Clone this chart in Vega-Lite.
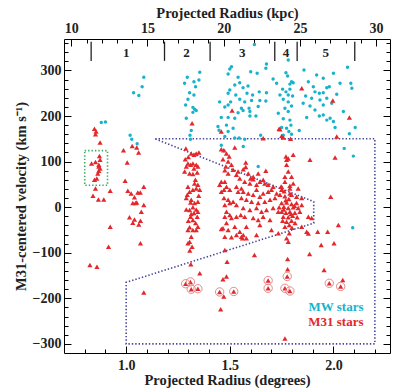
{
"$schema": "https://vega.github.io/schema/vega-lite/v6.json",
"width": 326, "height": 314,
"autosize": "none",
"padding": {"left": 64, "top": 39, "right": 5, "bottom": 38},
"background": "white",
"config": {
 "view": {"stroke": "#000", "strokeWidth": 1},
 "axis": {"grid": false, "domain": false, "labelFont": "Liberation Serif", "labelFontWeight": "bold", "labelFontSize": 14, "labelColor": "#222", "titleFont": "Liberation Serif", "titleFontWeight": "bold", "titleFontSize": 14.5, "titleColor": "#222", "tickColor": "#000", "tickWidth": 1},
 "text": {"font": "Liberation Serif", "fontWeight": "bold"}
},
"datasets": {
 "poly": [{"i":0,"r":1.14,"v":150},{"i":1,"r":2.2,"v":150},{"i":2,"r":2.2,"v":-300},{"i":3,"r":1.0,"v":-300},{"i":4,"r":1.0,"v":-165},{"i":5,"r":1.905,"v":-35},{"i":6,"r":1.905,"v":12},{"i":7,"r":1.14,"v":150}],
 "box": [{"r1":0.80,"r2":0.91,"v1":48,"v2":124}],
 "fields": [{"r":0.831,"v1":321,"v2":363},{"r":1.185,"v1":321,"v2":363},{"r":1.405,"v1":321,"v2":363},{"r":1.717,"v1":321,"v2":363},{"r":1.825,"v1":321,"v2":363},{"r":2.103,"v1":321,"v2":363}],
 "fieldlab": [{"r":1.0,"v":338,"t":"1"},{"r":1.291,"v":338,"t":"2"},{"r":1.56,"v":338,"t":"3"},{"r":1.771,"v":338,"t":"4"},{"r":1.963,"v":338,"t":"5"}],
 "legend": [{"r":2.145,"v":-220,"t":"MW stars","c":"MW"},{"r":2.145,"v":-252,"t":"M31 stars","c":"M31"}],
 "circ": [{"r":1.287,"v":-168},{"r":1.310,"v":-164},{"r":1.314,"v":-180},{"r":1.346,"v":-179},{"r":1.451,"v":-186},{"r":1.519,"v":-185},{"r":1.685,"v":-161},{"r":1.685,"v":-178},{"r":1.766,"v":-178},{"r":1.790,"v":-184},{"r":1.777,"v":-152},{"r":1.980,"v":-167},{"r":2.035,"v":-174}],
 "mw": [{"r":0.88,"v":186},{"r":0.90,"v":187},{"r":1.036,"v":251},{"r":1.077,"v":264},{"r":1.085,"v":285},{"r":1.061,"v":245},{"r":1.019,"v":158},{"r":1.027,"v":149},{"r":1.053,"v":139},
 {"r":1.355,"v":296},{"r":1.295,"v":285},{"r":1.282,"v":272},{"r":1.327,"v":275},{"r":1.351,"v":279},{"r":1.335,"v":264},{"r":1.306,"v":251},{"r":1.327,"v":246},{"r":1.298,"v":237},{"r":1.287,"v":224},{"r":1.322,"v":219},{"r":1.330,"v":215},{"r":1.338,"v":212},{"r":1.322,"v":208},{"r":1.290,"v":195},{"r":1.314,"v":168},{"r":1.308,"v":158},{"r":1.310,"v":149},
 {"r":1.508,"v":308},{"r":1.500,"v":303},{"r":1.492,"v":292},{"r":1.601,"v":297},{"r":1.632,"v":294},{"r":1.677,"v":314},{"r":1.674,"v":305},{"r":1.540,"v":285},{"r":1.548,"v":273},{"r":1.524,"v":268},{"r":1.588,"v":266},{"r":1.564,"v":262},{"r":1.500,"v":257},{"r":1.492,"v":250},{"r":1.529,"v":246},{"r":1.583,"v":250},{"r":1.610,"v":246},{"r":1.642,"v":253},{"r":1.677,"v":251},{"r":1.451,"v":231},{"r":1.504,"v":231},{"r":1.548,"v":237},{"r":1.572,"v":231},{"r":1.605,"v":234},{"r":1.645,"v":234},{"r":1.674,"v":233},{"r":1.492,"v":224},{"r":1.556,"v":217},{"r":1.564,"v":212},{"r":1.593,"v":217},{"r":1.637,"v":221},{"r":1.597,"v":210},{"r":1.540,"v":207},{"r":1.524,"v":195},{"r":1.492,"v":197},{"r":1.597,"v":200},{"r":1.626,"v":200},{"r":1.484,"v":180},{"r":1.516,"v":173},{"r":1.492,"v":166},{"r":1.476,"v":155},{"r":1.524,"v":152},{"r":1.545,"v":152},{"r":1.619,"v":357},{"r":1.459,"v":197},{"r":1.448,"v":169},{"r":1.476,"v":220},{"r":1.443,"v":177},{"r":1.459,"v":136},{"r":1.472,"v":124},{"r":1.572,"v":149},{"r":1.565,"v":133},{"r":1.649,"v":158},{"r":1.637,"v":89},
 {"r":1.782,"v":323},{"r":1.771,"v":295},{"r":1.779,"v":288},{"r":1.798,"v":275},{"r":1.790,"v":270},{"r":1.806,"v":273},{"r":1.709,"v":281},{"r":1.726,"v":272},{"r":1.755,"v":259},{"r":1.771,"v":253},{"r":1.790,"v":259},{"r":1.742,"v":246},{"r":1.782,"v":246},{"r":1.803,"v":244},{"r":1.758,"v":237},{"r":1.782,"v":231},{"r":1.798,"v":222},{"r":1.766,"v":217},{"r":1.734,"v":206},{"r":1.782,"v":210},{"r":1.758,"v":194},{"r":1.790,"v":191},{"r":1.795,"v":180},{"r":1.750,"v":175},{"r":1.774,"v":173},{"r":1.785,"v":166},{"r":1.798,"v":160},{"r":1.835,"v":168},{"r":1.758,"v":158},
 {"r":1.858,"v":301},{"r":1.919,"v":290},{"r":1.951,"v":283},{"r":2.000,"v":294},{"r":2.068,"v":307},{"r":2.084,"v":272},{"r":2.089,"v":261},{"r":2.032,"v":272},{"r":1.879,"v":275},{"r":1.903,"v":264},{"r":1.968,"v":262},{"r":1.980,"v":264},{"r":1.911,"v":253},{"r":1.932,"v":250},{"r":1.951,"v":251},{"r":2.016,"v":248},{"r":1.866,"v":244},{"r":1.895,"v":239},{"r":1.935,"v":235},{"r":1.968,"v":239},{"r":1.854,"v":228},{"r":1.887,"v":222},{"r":1.951,"v":224},{"r":1.992,"v":228},{"r":1.911,"v":213},{"r":1.871,"v":197},{"r":1.932,"v":200},{"r":1.951,"v":202},{"r":1.984,"v":195},{"r":2.048,"v":210},{"r":1.968,"v":191},{"r":2.000,"v":188},{"r":2.008,"v":175},{"r":2.105,"v":175},{"r":2.077,"v":161},{"r":2.052,"v":129},{"r":2.096,"v":112},{"r":2.093,"v":-45}],
 "m31": [{"r":0.855,"v":166},{"r":0.852,"v":160},{"r":0.847,"v":172},{"r":0.874,"v":142},{"r":0.987,"v":125},{"r":1.029,"v":134},{"r":1.051,"v":131},{"r":1.060,"v":120},{"r":1.005,"v":98},{"r":0.874,"v":104},{"r":0.871,"v":112},{"r":0.833,"v":96},{"r":0.852,"v":99},{"r":0.868,"v":93},{"r":0.868,"v":89},{"r":0.874,"v":85},{"r":0.868,"v":80},{"r":0.863,"v":74},{"r":0.847,"v":60},{"r":0.858,"v":63},{"r":0.852,"v":41},{"r":0.995,"v":58},{"r":0.923,"v":36},{"r":1.085,"v":45},{"r":0.840,"v":25},{"r":0.866,"v":17},{"r":0.892,"v":17},{"r":1.008,"v":36},{"r":1.024,"v":30},{"r":1.056,"v":32},{"r":1.068,"v":32},{"r":1.040,"v":22},{"r":1.032,"v":9},{"r":1.045,"v":9},{"r":1.051,"v":10},{"r":1.085,"v":5},{"r":1.073,"v":-10},{"r":1.016,"v":-22},{"r":1.040,"v":-27},{"r":1.032,"v":-34},{"r":1.069,"v":-30},{"r":1.061,"v":-38},{"r":0.923,"v":-43},{"r":0.915,"v":-87},{"r":1.069,"v":-79},{"r":0.825,"v":-127},{"r":0.859,"v":-131},{"r":1.085,"v":-187},
 {"r":1.318,"v":184},{"r":1.288,"v":129},{"r":1.300,"v":110},{"r":1.285,"v":105},{"r":1.314,"v":118},{"r":1.327,"v":115},{"r":1.338,"v":118},{"r":1.351,"v":120},{"r":1.298,"v":96},{"r":1.311,"v":93},{"r":1.322,"v":96},{"r":1.338,"v":93},{"r":1.346,"v":89},{"r":1.290,"v":89},{"r":1.327,"v":85},{"r":1.282,"v":78},{"r":1.306,"v":74},{"r":1.322,"v":73},{"r":1.343,"v":76},{"r":1.334,"v":60},{"r":1.330,"v":52},{"r":1.346,"v":49},{"r":1.338,"v":41},{"r":1.355,"v":38},{"r":1.322,"v":38},{"r":1.298,"v":45},{"r":1.306,"v":34},{"r":1.295,"v":27},{"r":1.290,"v":20},{"r":1.350,"v":25},{"r":1.314,"v":16},{"r":1.311,"v":10},{"r":1.330,"v":9},{"r":1.346,"v":12},{"r":1.322,"v":0},{"r":1.290,"v":-5},{"r":1.306,"v":-6},{"r":1.338,"v":-5},{"r":1.346,"v":-10},{"r":1.327,"v":-13},{"r":1.314,"v":-15},{"r":1.311,"v":-21},{"r":1.343,"v":-21},{"r":1.322,"v":-28},{"r":1.300,"v":-30},{"r":1.335,"v":-35},{"r":1.306,"v":-44},{"r":1.298,"v":-50},{"r":1.322,"v":-50},{"r":1.346,"v":-43},{"r":1.338,"v":-50},{"r":1.314,"v":-65},{"r":1.306,"v":-76},{"r":1.318,"v":-87},{"r":1.298,"v":-79},{"r":1.307,"v":-95},{"r":1.312,"v":-125},{"r":1.355,"v":-145},{"r":1.287,"v":-168},{"r":1.310,"v":-164},{"r":1.314,"v":-180},{"r":1.346,"v":-179},
 {"r":1.511,"v":212},{"r":1.459,"v":166},{"r":1.459,"v":127},{"r":1.524,"v":131},{"r":1.471,"v":125},{"r":1.484,"v":118},{"r":1.467,"v":105},{"r":1.492,"v":100},{"r":1.481,"v":89},{"r":1.497,"v":111},{"r":1.508,"v":93},{"r":1.577,"v":98},{"r":1.577,"v":88},{"r":1.674,"v":80},{"r":1.661,"v":151},{"r":1.738,"v":172},
 {"r":1.476,"v":81},{"r":1.492,"v":74},{"r":1.516,"v":82},{"r":1.540,"v":78},{"r":1.565,"v":83},{"r":1.589,"v":74},{"r":1.613,"v":67},{"r":1.637,"v":74},{"r":1.548,"v":63},{"r":1.572,"v":56},{"r":1.597,"v":52},{"r":1.629,"v":49},{"r":1.661,"v":60},{"r":1.685,"v":49},{"r":1.709,"v":45},{"r":1.726,"v":30},{"r":1.750,"v":38},{"r":1.532,"v":71},{"r":1.459,"v":56},{"r":1.476,"v":56},{"r":1.451,"v":49},{"r":1.484,"v":45},{"r":1.472,"v":38},{"r":1.500,"v":38},{"r":1.459,"v":34},{"r":1.532,"v":45},{"r":1.540,"v":34},{"r":1.556,"v":41},{"r":1.565,"v":34},{"r":1.472,"v":20},{"r":1.492,"v":16},{"r":1.500,"v":9},{"r":1.476,"v":5},{"r":1.516,"v":12},{"r":1.532,"v":5},{"r":1.484,"v":-10},{"r":1.500,"v":-17},{"r":1.476,"v":-21},{"r":1.508,"v":-24},{"r":1.532,"v":-21},{"r":1.553,"v":-17},{"r":1.467,"v":-46},{"r":1.492,"v":-50},{"r":1.524,"v":-43},{"r":1.548,"v":-54},{"r":1.476,"v":-65},{"r":1.508,"v":-66},{"r":1.532,"v":-61},{"r":1.561,"v":-68},{"r":1.476,"v":-94},{"r":1.600,"v":63},{"r":1.613,"v":61},{"r":1.645,"v":56},{"r":1.669,"v":52},{"r":1.701,"v":38},{"r":1.685,"v":34},{"r":1.589,"v":30},{"r":1.629,"v":38},{"r":1.613,"v":27},{"r":1.645,"v":23},{"r":1.661,"v":30},{"r":1.556,"v":20},{"r":1.580,"v":16},{"r":1.605,"v":12},{"r":1.637,"v":9},{"r":1.669,"v":12},{"r":1.694,"v":16},{"r":1.718,"v":20},{"r":1.565,"v":-2},{"r":1.597,"v":-6},{"r":1.629,"v":-2},{"r":1.653,"v":-10},{"r":1.677,"v":-6},{"r":1.709,"v":-2},{"r":1.734,"v":-10},{"r":1.572,"v":-21},{"r":1.613,"v":-24},{"r":1.637,"v":-28},{"r":1.661,"v":-21},{"r":1.694,"v":-28},{"r":1.580,"v":-43},{"r":1.645,"v":-39},{"r":1.701,"v":-50},{"r":1.556,"v":-65},{"r":1.580,"v":-68},{"r":1.629,"v":-61},{"r":1.734,"v":-57},{"r":1.484,"v":-35},{"r":1.565,"v":-61},{"r":1.459,"v":-48},{"r":1.487,"v":-120},{"r":1.467,"v":-158},{"r":1.484,"v":-152},{"r":1.471,"v":-196},{"r":1.456,"v":-224},{"r":1.619,"v":-105},{"r":1.451,"v":-186},{"r":1.519,"v":-185},
 {"r":1.742,"v":171},{"r":1.750,"v":156},{"r":1.758,"v":153},{"r":1.793,"v":150},{"r":1.806,"v":115},{"r":1.771,"v":111},{"r":1.782,"v":107},{"r":1.774,"v":104},{"r":1.774,"v":93},{"r":1.782,"v":78},{"r":1.798,"v":67},{"r":1.766,"v":67},{"r":1.766,"v":56},{"r":1.806,"v":52},{"r":1.750,"v":45},{"r":1.790,"v":41},{"r":1.830,"v":41},{"r":1.847,"v":20},{"r":1.742,"v":27},{"r":1.766,"v":24},{"r":1.798,"v":27},{"r":1.822,"v":23},{"r":1.750,"v":9},{"r":1.774,"v":10},{"r":1.798,"v":7},{"r":1.822,"v":9},{"r":1.738,"v":0},{"r":1.761,"v":1},{"r":1.782,"v":-2},{"r":1.806,"v":0},{"r":1.830,"v":-2},{"r":1.750,"v":-10},{"r":1.771,"v":-12},{"r":1.790,"v":-10},{"r":1.814,"v":-12},{"r":1.838,"v":-10},{"r":1.758,"v":-21},{"r":1.782,"v":-22},{"r":1.803,"v":-19},{"r":1.825,"v":-22},{"r":1.774,"v":-32},{"r":1.798,"v":-30},{"r":1.787,"v":-39},{"r":1.766,"v":-43},{"r":1.879,"v":-21},{"r":1.895,"v":-24},{"r":1.847,"v":5},{"r":1.774,"v":-68},{"r":1.782,"v":-76},{"r":1.787,"v":-57},{"r":1.847,"v":-43},{"r":1.790,"v":47},{"r":1.747,"v":45},{"r":1.760,"v":-5},{"r":1.795,"v":-15},{"r":1.812,"v":3},{"r":1.770,"v":15},{"r":1.755,"v":-30},{"r":1.815,"v":-35},{"r":1.785,"v":18},{"r":1.800,"v":-45},{"r":1.762,"v":35},{"r":1.790,"v":30},{"r":1.779,"v":-114},{"r":1.779,"v":-136},{"r":1.766,"v":-288},{"r":1.685,"v":-161},{"r":1.685,"v":-178},{"r":1.766,"v":-178},{"r":1.790,"v":-184},{"r":1.777,"v":-152},
 {"r":1.847,"v":261},{"r":1.997,"v":234},{"r":2.077,"v":197},{"r":2.016,"v":155},{"r":1.887,"v":104},{"r":2.008,"v":109},{"r":1.987,"v":23},{"r":2.024,"v":-39},{"r":1.972,"v":-54},{"r":1.924,"v":-54},{"r":1.871,"v":-54},{"r":1.879,"v":-58},{"r":1.941,"v":-83},{"r":2.003,"v":-79},{"r":1.885,"v":-103},{"r":1.955,"v":-138},{"r":2.045,"v":-160},{"r":1.980,"v":-167},{"r":2.035,"v":-174}]
},
"resolve": {"axis": {"x": "independent", "y": "independent"}},
"layer": [
 {"data": {"name": "poly"},
  "mark": {"type": "line", "color": "#45459c", "strokeWidth": 1.6, "strokeDash": [1.4, 2]},
  "encoding": {
   "x": {"field": "r", "type": "quantitative", "scale": {"domain": [0.7, 2.273], "nice": false, "zero": false},
         "axis": {"orient": "bottom", "values": [1, 1.5, 2], "format": ".1f", "ticks": false, "labelPadding": 5, "title": "Projected Radius (degrees)", "titlePadding": 1}},
   "y": {"field": "v", "type": "quantitative", "scale": {"domain": [-320, 369], "nice": false, "zero": false},
         "axis": {"orient": "left", "values": [-300, -200, -100, 0, 100, 200, 300], "ticks": false, "labelPadding": 3, "title": "M31-centered velocity (km s⁻¹)", "titlePadding": 4}},
   "order": {"field": "i", "type": "quantitative"}
  }},
 {"data": {"name": "box"},
  "mark": {"type": "rect", "fill": "transparent", "stroke": "#3aae62", "strokeWidth": 1.6, "strokeDash": [1.4, 2]},
  "encoding": {
   "x": {"field": "r1", "type": "quantitative", "scale": {"domain": [0.7, 2.273], "nice": false, "zero": false},
         "axis": {"orient": "bottom", "values": [1, 1.5, 2], "labels": false, "tickSize": -7, "title": null}},
   "x2": {"field": "r2"},
   "y": {"field": "v1", "type": "quantitative", "scale": {"domain": [-320, 369], "nice": false, "zero": false},
         "axis": {"orient": "left", "values": [-300, -200, -100, 0, 100, 200, 300], "labels": false, "tickSize": -7, "title": null}},
   "y2": {"field": "v2"}
  }},
 {"data": {"name": "fields"},
  "mark": {"type": "rule", "color": "#222", "strokeWidth": 1.3},
  "encoding": {
   "x": {"field": "r", "type": "quantitative", "scale": {"domain": [0.7, 2.273], "nice": false, "zero": false},
         "axis": {"orient": "bottom", "values": [0.8, 0.9, 1.0, 1.1, 1.2, 1.3, 1.4, 1.5, 1.6, 1.7, 1.8, 1.9, 2.0, 2.1, 2.2], "labels": false, "tickSize": -4, "title": null}},
   "y": {"field": "v1", "type": "quantitative", "scale": {"domain": [-320, 369], "nice": false, "zero": false},
         "axis": {"orient": "left", "values": [-300, -280, -260, -240, -220, -200, -180, -160, -140, -120, -100, -80, -60, -40, -20, 0, 20, 40, 60, 80, 100, 120, 140, 160, 180, 200, 220, 240, 260, 280, 300, 320, 340, 360], "labels": false, "tickSize": -4, "title": null}},
   "y2": {"field": "v2"}
  }},
 {"data": {"name": "mw"},
  "mark": {"type": "circle", "color": "#17b3cc", "size": 12, "opacity": 1},
  "encoding": {
   "x": {"field": "r", "type": "quantitative", "scale": {"domain": [0.7, 2.273], "nice": false, "zero": false},
         "axis": {"orient": "top", "values": [0.7353, 1.1029, 1.4706, 1.8382, 2.2059], "labelExpr": "format(datum.value*13.6, '.0f')", "ticks": false, "labelPadding": 4, "title": "Projected Radius (kpc)", "titlePadding": 1}},
   "y": {"field": "v", "type": "quantitative", "scale": {"domain": [-320, 369], "nice": false, "zero": false},
         "axis": {"orient": "right", "values": [-300, -200, -100, 0, 100, 200, 300], "labels": false, "tickSize": -7, "title": null}}
  }},
 {"data": {"name": "m31"},
  "mark": {"type": "point", "shape": "triangle-up", "filled": true, "color": "#e3282c", "size": 27, "opacity": 1},
  "encoding": {
   "x": {"field": "r", "type": "quantitative", "scale": {"domain": [0.7, 2.273], "nice": false, "zero": false},
         "axis": {"orient": "top", "values": [0.7353, 1.1029, 1.4706, 1.8382, 2.2059], "labels": false, "tickSize": -7, "title": null}},
   "y": {"field": "v", "type": "quantitative", "scale": {"domain": [-320, 369], "nice": false, "zero": false},
         "axis": {"orient": "right", "values": [-300, -280, -260, -240, -220, -200, -180, -160, -140, -120, -100, -80, -60, -40, -20, 0, 20, 40, 60, 80, 100, 120, 140, 160, 180, 200, 220, 240, 260, 280, 300, 320, 340, 360], "labels": false, "tickSize": -4, "title": null}}
  }},
 {"data": {"name": "circ"},
  "mark": {"type": "point", "shape": "circle", "filled": false, "stroke": "#e58a8a", "strokeWidth": 1, "size": 70, "opacity": 1},
  "encoding": {
   "x": {"field": "r", "type": "quantitative", "scale": {"domain": [0.7, 2.273], "nice": false, "zero": false},
         "axis": {"orient": "top", "values": [0.7353, 0.8088, 0.8824, 0.9559, 1.0294, 1.1029, 1.1765, 1.25, 1.3235, 1.3971, 1.4706, 1.5441, 1.6176, 1.6912, 1.7647, 1.8382, 1.9118, 1.9853, 2.0588, 2.1324, 2.2059], "labels": false, "tickSize": -4, "title": null}},
   "y": {"field": "v", "type": "quantitative", "scale": {"domain": [-320, 369], "nice": false, "zero": false}, "axis": null}
  }},
 {"data": {"name": "fieldlab"},
  "mark": {"type": "text", "fontSize": 13, "color": "#222", "baseline": "middle", "align": "center"},
  "encoding": {
   "x": {"field": "r", "type": "quantitative", "scale": {"domain": [0.7, 2.273], "nice": false, "zero": false}, "axis": null},
   "y": {"field": "v", "type": "quantitative", "scale": {"domain": [-320, 369], "nice": false, "zero": false}, "axis": null},
   "text": {"field": "t"}
  }},
 {"data": {"name": "legend"},
  "mark": {"type": "text", "fontSize": 13, "baseline": "middle", "align": "right"},
  "encoding": {
   "x": {"field": "r", "type": "quantitative", "scale": {"domain": [0.7, 2.273], "nice": false, "zero": false}, "axis": null},
   "y": {"field": "v", "type": "quantitative", "scale": {"domain": [-320, 369], "nice": false, "zero": false}, "axis": null},
   "text": {"field": "t"},
   "color": {"field": "c", "type": "nominal", "scale": {"domain": ["MW", "M31"], "range": ["#17b3cc", "#e3282c"]}, "legend": null}
  }}
]
}
